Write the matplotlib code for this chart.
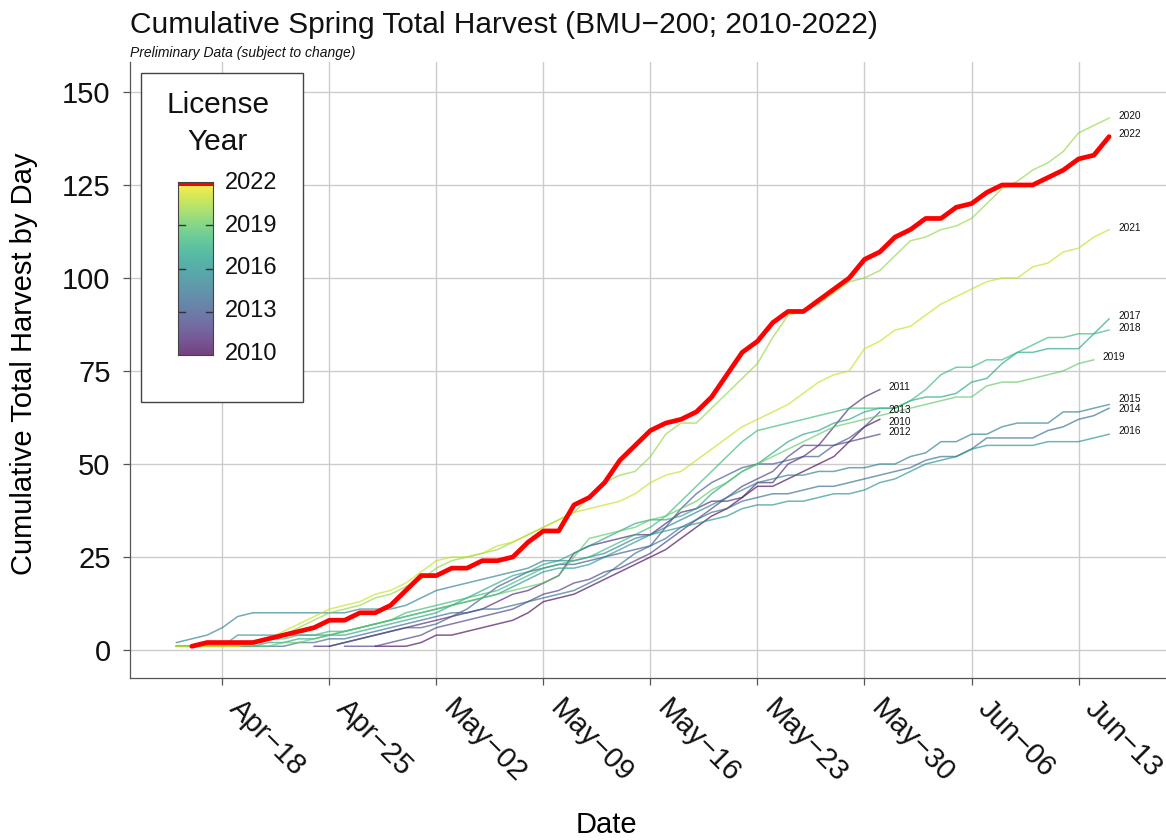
import matplotlib
matplotlib.use("Agg")
import matplotlib.pyplot as plt
import matplotlib.dates as mdates
import matplotlib.transforms as mtransforms
import numpy as np
import pandas as pd
from matplotlib.patches import Rectangle
from matplotlib.lines import Line2D

plt.rcParams['font.family'] = ['Liberation Sans', 'DejaVu Sans']

# ---- data: cumulative daily harvest per license year ----
years = [2010, 2011, 2012, 2013, 2014, 2015, 2016, 2017, 2018, 2019, 2020, 2021, 2022]
start_dates = ["04-28", "04-24", "04-26", "04-25", "04-15", "04-15", "04-15",
               "04-15", "04-15", "04-15", "04-15", "04-15", "04-16"]

h2010 = [1, 1, 1,
         2, 4, 4, 5, 6, 7, 8, 10, 13, 14, 15, 17, 19, 21, 23, 25, 27, 30, 33, 36,
         38, 41, 44, 44, 46, 48, 50, 52, 56, 60, 62]
h2011 = [1, 1, 2, 3, 4, 5, 6,
         7, 8, 9, 10, 11, 13, 15, 16, 18, 20, 26, 28, 29, 30, 31, 31, 34, 37, 38, 40,
         40, 41, 45, 45, 50, 52, 55, 60, 65, 68, 70]
h2012 = [1, 1, 1, 2, 3,
         4, 6, 7, 8, 9, 10, 11, 13, 15, 16, 18, 19, 21, 22, 24, 26, 29, 32, 35, 38,
         41, 44, 46, 48, 52, 55, 55, 55, 56, 57, 58]
h2013 = [1, 2, 3, 4, 5, 6,
         6, 7, 9, 11, 14, 17, 19, 21, 22, 23, 23, 24, 25, 26, 27, 28, 33, 38, 42, 45,
         47, 49, 50, 50, 51, 52, 52, 55, 57, 60, 64]
h2014 = [1, 1, 1, 1, 1, 1, 1, 1, 2, 2, 3, 3, 4, 5, 6, 7,
         8, 9, 10, 10, 11, 11, 12, 13, 14, 15, 16, 18, 20, 23, 26, 28, 30, 33, 35, 37,
         38, 40, 41, 42, 42, 43, 44, 44, 45, 46, 47,
         48, 49, 51, 52, 52, 54, 57, 57, 57, 57, 59, 60, 62, 63, 65]
h2015 = [2, 3, 4, 6, 9, 10, 10, 10, 10, 10, 10, 10, 11, 11, 11, 12,
         14, 16, 17, 18, 19, 20, 21, 22, 24, 24, 24, 25, 26, 28, 30, 31, 33, 35, 37, 39,
         41, 43, 45, 46, 47, 47, 48, 48, 49, 49, 50,
         50, 52, 53, 56, 56, 58, 58, 60, 61, 61, 61, 64, 64, 65, 66]
h2016 = [1, 1, 1, 1, 4, 4, 4, 4, 4, 4, 4, 5, 6, 7, 8, 9,
         10, 11, 12, 13, 14, 15, 17, 19, 21, 22, 22, 23, 25, 27, 29, 31, 32, 33, 34, 35,
         36, 38, 39, 39, 40, 40, 41, 42, 42, 43, 45,
         46, 48, 50, 51, 52, 54, 55, 55, 55, 55, 56, 56, 56, 57, 58]
h2017 = [1, 1, 1, 1, 1, 1, 2, 2, 3, 3, 4, 4, 5, 6, 7, 8,
         9, 10, 12, 14, 16, 18, 20, 21, 23, 24, 26, 28, 30, 32, 34, 35, 35, 36, 38, 42,
         45, 48, 50, 53, 56, 58, 59, 61, 62, 64, 65,
         65, 67, 68, 68, 69, 72, 73, 77, 80, 80, 81, 81, 81, 85, 89]
h2018 = [1, 1, 1, 1, 1, 2, 3, 3, 4, 4, 5, 5, 6, 7, 8, 10,
         11, 12, 13, 14, 15, 16, 18, 20, 22, 23, 24, 25, 27, 29, 31, 33, 36, 40, 44, 48,
         52, 56, 59, 60, 61, 62, 63, 64, 65, 65, 65,
         65, 67, 70, 74, 76, 76, 78, 78, 80, 82, 84, 84, 85, 85, 86]
h2019 = [1, 1, 1, 1, 1, 1, 1, 2, 2, 3, 4, 5, 6, 7, 8, 9,
         10, 11, 12, 13, 14, 15, 16, 17, 18, 20, 25, 30, 31, 32, 33, 35, 36, 38, 40, 43,
         45, 48, 50, 52, 54, 56, 58, 60, 61, 62, 63,
         64, 65, 66, 67, 68, 68, 71, 72, 72, 73, 74, 75, 77, 78]
h2020 = [1, 1, 1, 1, 1, 2, 3, 4, 6, 8, 10, 11, 12, 14, 15, 17,
         19, 22, 24, 25, 26, 27, 29, 31, 33, 35, 37, 41, 45, 47, 48, 52, 58, 61, 61, 65,
         69, 73, 77, 84, 90, 91, 93, 96, 99, 100, 102,
         106, 110, 111, 113, 114, 116, 120, 124, 126, 129, 131, 134, 139, 141, 143]
h2021 = [1, 1, 1, 1, 1, 2, 3, 5, 7, 9, 11, 12, 13, 15, 16, 18,
         21, 24, 25, 25, 26, 28, 29, 31, 33, 35, 37, 38, 39, 40, 42, 45, 47, 48, 51, 54,
         57, 60, 62, 64, 66, 69, 72, 74, 75, 81, 83,
         86, 87, 90, 93, 95, 97, 99, 100, 100, 103, 104, 107, 108, 111, 113]
h2022 = [1, 2, 2, 2, 2, 3, 4, 5, 6, 8, 8, 10, 10, 12, 16,
         20, 20, 22, 22, 24, 24, 25, 29, 32, 32, 39, 41, 45, 51, 55, 59, 61, 62, 64, 68,
         74, 80, 83, 88, 91, 91, 94, 97, 100, 105, 107,
         111, 113, 116, 116, 119, 120, 123, 125, 125, 125, 127, 129, 132, 133, 138]

series = [h2010, h2011, h2012, h2013, h2014, h2015, h2016, h2017, h2018, h2019,
          h2020, h2021, h2022]

week_ticks = ["04-18", "04-25", "05-02", "05-09", "05-16", "05-23", "05-30",
              "06-06", "06-13"]
y_ticks = [0, 25, 50, 75, 100, 125, 150]
legend_years = [2010, 2013, 2016, 2019, 2022]

# small vertical nudges (data units) so end labels do not collide
label_nudge = {2010: -0.7, 2011: 0.7, 2012: 0.6, 2013: 0.5, 2015: 1.5, 2014: -0.2,
               2016: 0.9, 2017: 0.8, 2018: 0.6, 2019: 0.8, 2020: 0.5, 2021: 0.4,
               2022: 0.7}

W, H = 1166, 840
fig = plt.figure(figsize=(W / 100, H / 100), dpi=100)
ax = fig.add_axes([130 / W, (H - 678) / H, (W - 130) / W, (678 - 62) / H])

cmap = plt.get_cmap('viridis')
base = pd.Timestamp("2022-04-18")


def ts(md):
    return pd.Timestamp("2022-" + md)


for yr, start, vals in zip(years, start_dates, series):
    dates = pd.date_range(ts(start), periods=len(vals), freq="D")
    if yr == 2022:
        ax.plot(dates, vals, color="#ff0000", lw=3.4, zorder=6,
                solid_joinstyle="round", solid_capstyle="round")
    else:
        ax.plot(dates, vals, color=cmap((yr - 2010) / 12), alpha=0.65, lw=1.1,
                zorder=3)
    ax.text(dates[-1] + pd.Timedelta(hours=14), vals[-1] + label_nudge.get(yr, 0),
            str(yr), fontsize=7.3, va="center", ha="left", color="#111111", zorder=7)

# axes ranges
x0 = mdates.date2num(base) - 6.04
ax.set_xlim(x0, x0 + 67.76)
ax.set_ylim(-7.53, 158.06)

ax.set_xticks([mdates.date2num(ts(d)) for d in week_ticks])
ax.xaxis.set_major_formatter(mdates.DateFormatter("%b\u2212%d"))
ax.set_yticks(y_ticks)

ax.grid(True, color="#cccccc", lw=1.0)
ax.set_axisbelow(True)
for s in ["top", "right"]:
    ax.spines[s].set_visible(False)
for s in ["left", "bottom"]:
    ax.spines[s].set_color("#555555")
    ax.spines[s].set_linewidth(0.9)

ax.tick_params(axis="both", length=5, width=0.9, color="#555555", labelsize=21,
               labelcolor="#111111")
ax.tick_params(axis="y", pad=9)
ax.tick_params(axis="x", pad=8)
shift = mtransforms.ScaledTranslation(21 / 100, 2 / 100, fig.dpi_scale_trans)
for lab in ax.get_xticklabels():
    lab.set_rotation(-45)
    lab.set_ha("left")
    lab.set_va("top")
    lab.set_rotation_mode("anchor")
    lab.set_transform(lab.get_transform() + shift)

ax.set_xlabel("Date", fontsize=21)
ax.xaxis.label.set_va("center")
ax.xaxis.set_label_coords((606 - 130) / (W - 130), -(825 - 678) / (678 - 62))
ax.set_ylabel("Cumulative Total Harvest by Day", fontsize=21)
ax.yaxis.label.set_va("center")
ax.yaxis.set_label_coords((24 - 130) / (W - 130), (678 - 364) / (678 - 62))

fig.text(130 / W, 1 - 25 / H, "Cumulative Spring Total Harvest (BMU\u2212200; 2010-2022)",
         fontsize=21.5, ha="left", va="center", color="#111111")
fig.text(130 / W, 1 - 53 / H, "Preliminary Data (subject to change)",
         fontsize=10, style="italic", ha="left", va="center", color="#111111")

# ---- colour legend ----
fig.patches.append(Rectangle((141 / W, 1 - 402 / H), (303 - 141) / W, (402 - 73) / H,
                             transform=fig.transFigure, facecolor="white",
                             edgecolor="#444444", lw=1.0, zorder=10))
fig.text(218 / W, 1 - 105 / H, "License", fontsize=21.5, ha="center",
         va="center", color="#111111", zorder=11)
fig.text(218 / W, 1 - 142 / H, "Year", fontsize=21.5, ha="center",
         va="center", color="#111111", zorder=11)

cax = fig.add_axes([178 / W, 1 - 355 / H, (213 - 178) / W, (355 - 182) / H], zorder=12)
grad = np.linspace(2010, 2022, 256).reshape(-1, 1)
cax.imshow(grad, aspect="auto", origin="lower", cmap=cmap, vmin=2010, vmax=2022,
           extent=[0, 1, 2010, 2022], alpha=0.75)
cax.add_patch(Rectangle((0, 2021.72), 1, 0.28, facecolor="#ff0000", edgecolor="none"))
for yv in legend_years[1:-1]:
    cax.add_line(Line2D([0, 0.2], [yv, yv], color="#333333", lw=1.0))
    cax.add_line(Line2D([0.8, 1], [yv, yv], color="#333333", lw=1.0))
cax.set_xlim(0, 1)
cax.set_ylim(2010, 2022)
cax.set_xticks([])
cax.set_yticks([])
for s in cax.spines.values():
    s.set_color("#444444")
    s.set_linewidth(0.8)
for yv in legend_years:
    fig.text(225 / W, 1 - (354 - (yv - 2010) * (171 / 12)) / H, str(yv), fontsize=17,
             ha="left", va="center", color="#111111", zorder=13)

fig.savefig("out.png", dpi=100)
